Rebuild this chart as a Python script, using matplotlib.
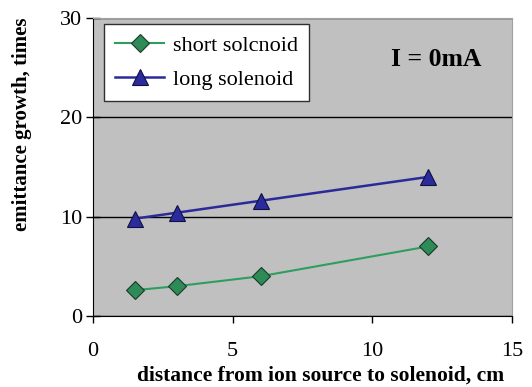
import matplotlib.pyplot as plt

# distance from ion source to solenoid, cm
distance = [1.5, 3, 6, 12]
short_solenoid = [2.6, 3.0, 4.0, 7.0]
long_solenoid = [9.8, 10.4, 11.6, 14.0]

plt.rcParams["font.family"] = ["Liberation Serif", "DejaVu Serif"]

fig = plt.figure(figsize=(5.32, 3.87), dpi=100)
ax = fig.add_axes([0.175, 0.1835, 0.787, 0.77])
ax.set_facecolor("#c0c0c0")

ax.plot(distance, short_solenoid, color="#2e9e5e", lw=1.5, marker="D",
        ms=9, mfc="#2e8b57", mec="#1a3a2a", mew=0.8, label="short solcnoid")
ax.plot(distance, long_solenoid, color="#2a2a9a", lw=1.8, marker="^",
        ms=11, mfc="#2b2b9e", mec="#101040", mew=0.8, label="long solenoid")

ax.set_xlim(0, 15)
ax.set_ylim(0, 30)
ax.set_xticks([0, 5, 10, 15])
ax.set_yticks([0, 10, 20, 30])
ax.yaxis.grid(True, color="black", lw=1)
ax.set_axisbelow(True)
ax.tick_params(axis="y", direction="inout", length=10, width=1, labelsize=16, pad=3)
ax.tick_params(axis="x", direction="out", length=5, width=1, labelsize=16, pad=14)

for s in ["top", "right"]:
    ax.spines[s].set_color("#a0a0a0")
for s in ["left", "bottom"]:
    ax.spines[s].set_color("black")

fig.text(0.042, 0.955, "emittance growth, times", rotation=90, ha="center",
         va="top", fontsize=15, fontweight="bold")
fig.text(0.258, 0.004, "distance from ion source to solenoid, cm", ha="left",
         va="bottom", fontsize=15.5, fontweight="bold")

ax.text(0.82, 0.86, "I = 0mA", transform=ax.transAxes, ha="center",
        va="center", fontsize=18.5, fontweight="bold")

leg = ax.legend(loc="upper left", bbox_to_anchor=(0.026, 0.98), fontsize=16,
                frameon=True, fancybox=False, edgecolor="#303030",
                framealpha=1, handlelength=2.2, handletextpad=0.4,
                borderpad=0.5, labelspacing=0.6, borderaxespad=0)
leg.get_frame().set_linewidth(1)

fig.savefig("out.png", dpi=100)
